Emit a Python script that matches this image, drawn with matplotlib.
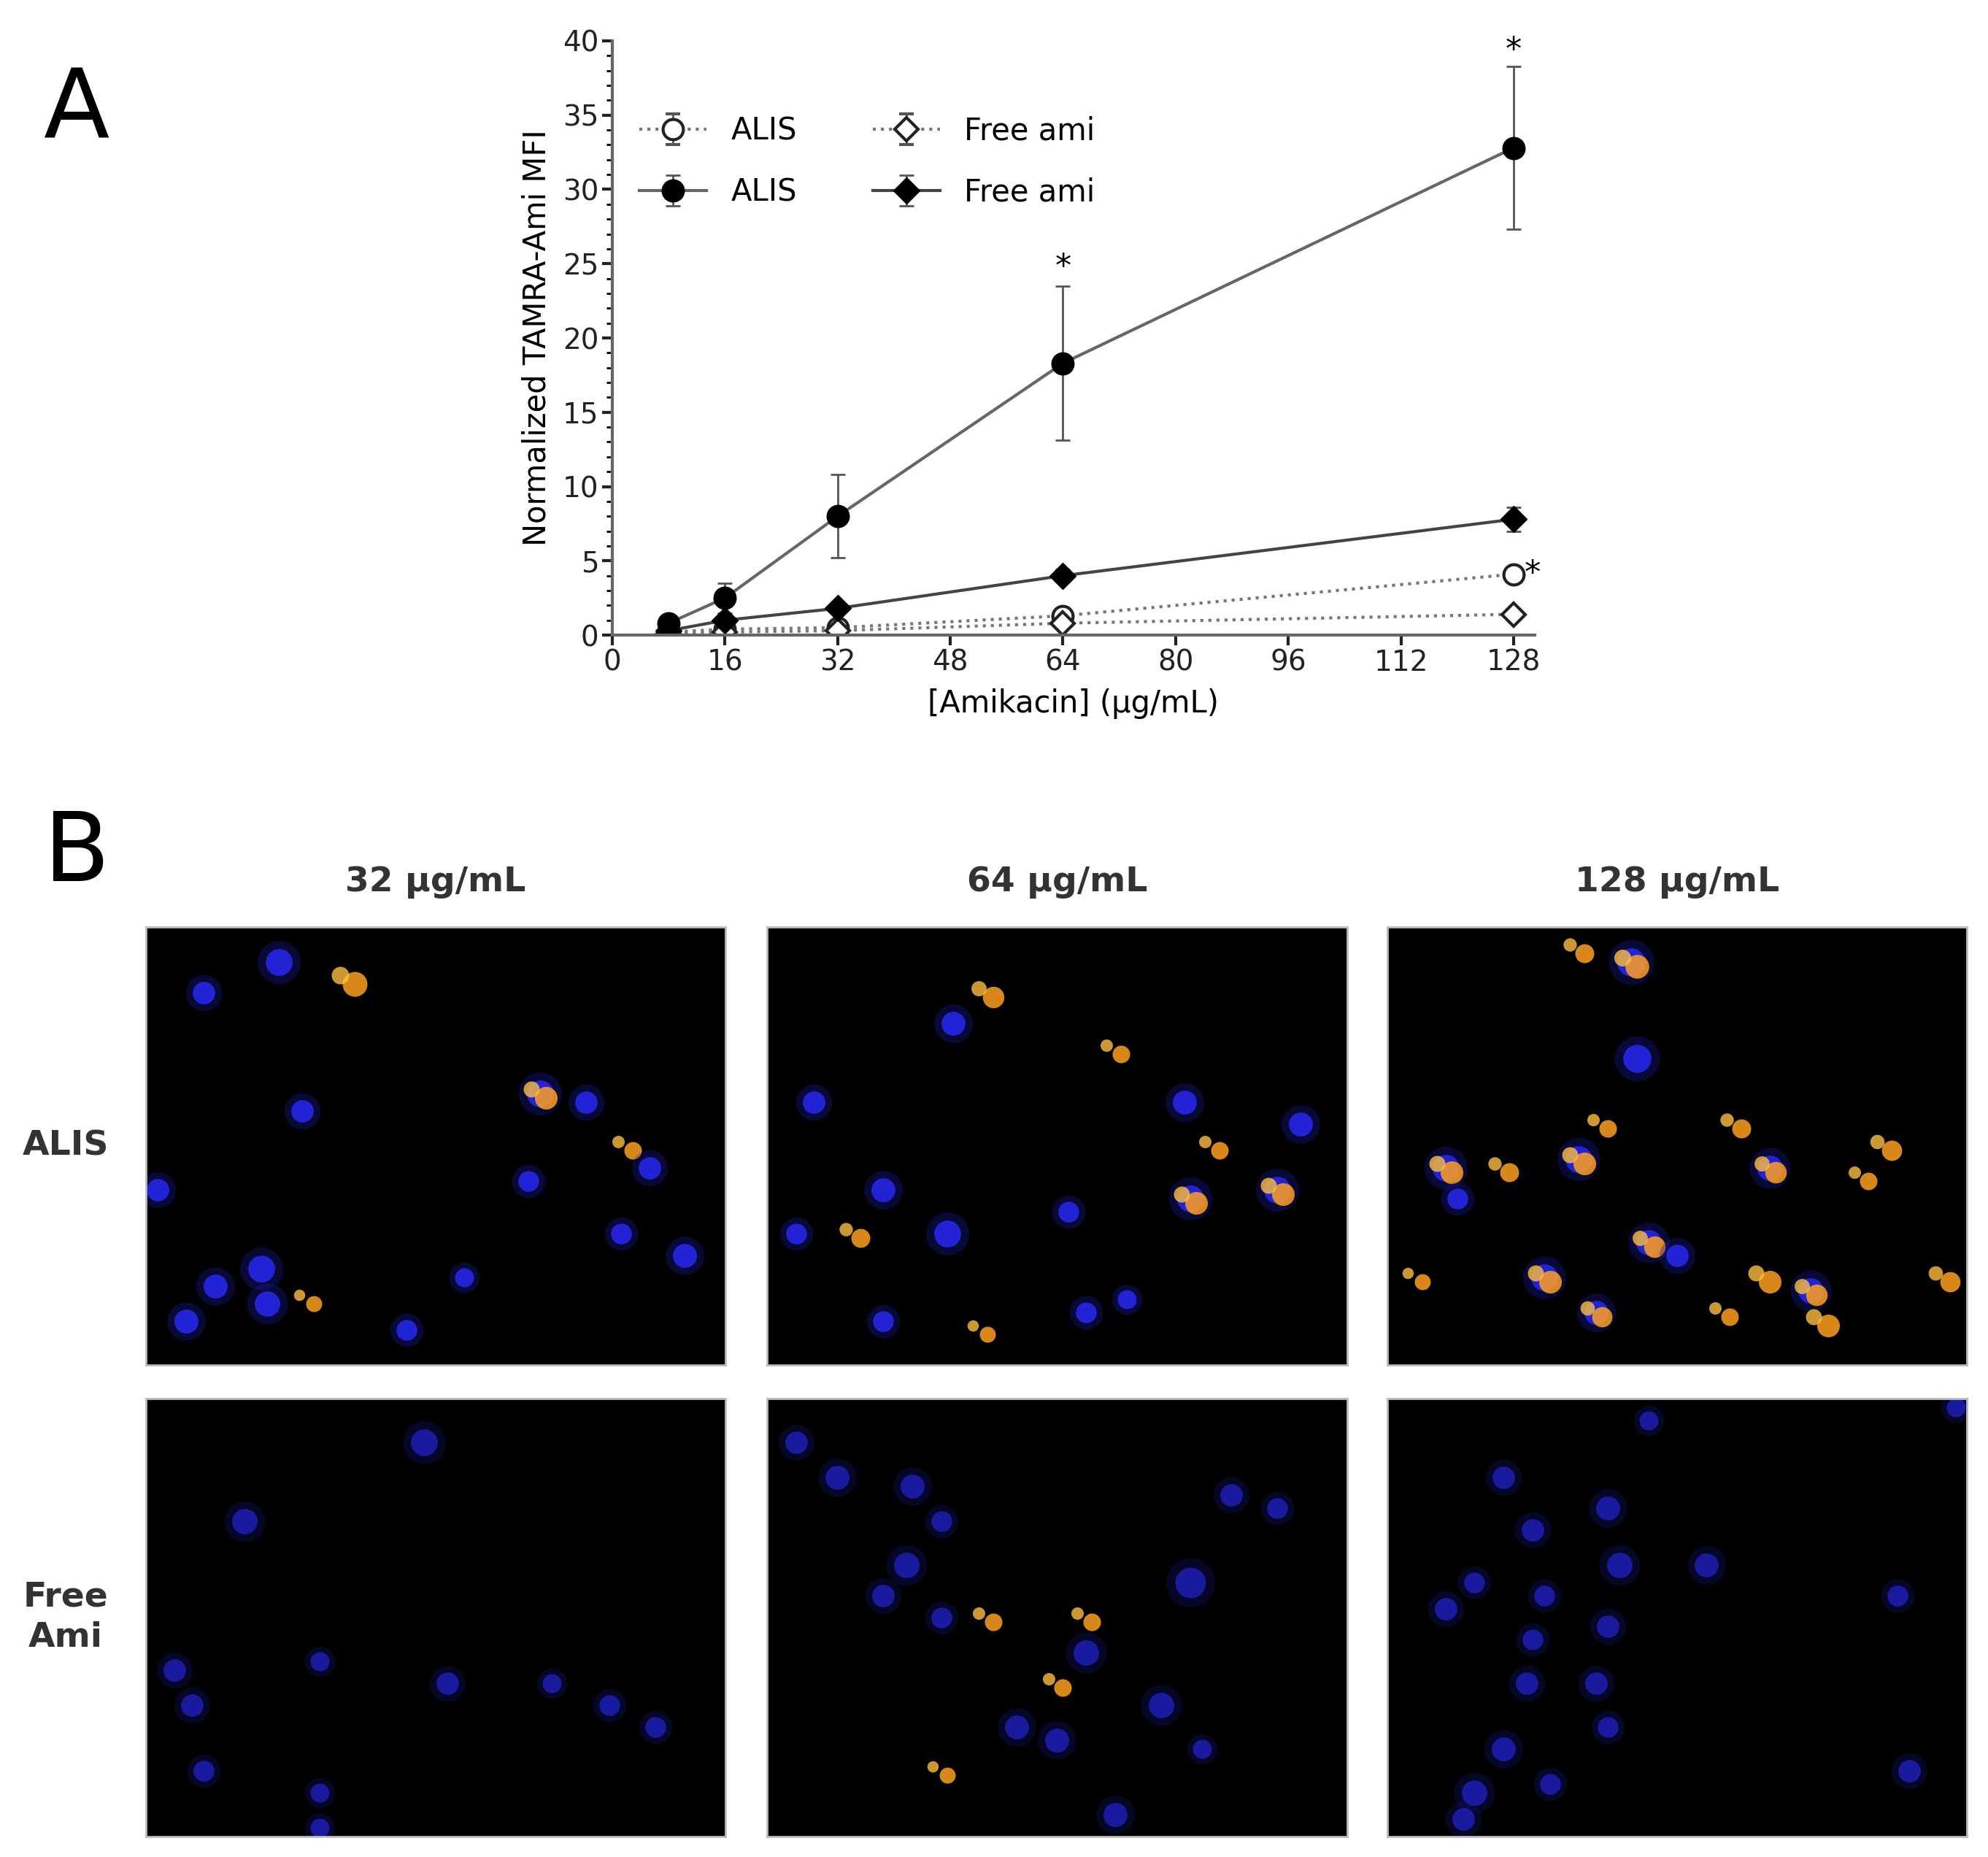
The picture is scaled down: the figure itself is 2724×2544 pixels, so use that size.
import numpy as np
import matplotlib.pyplot as plt

plt.rcParams['font.family'] = ['DejaVu Sans']

conc = [8, 16, 32, 64, 128]
alis_fill = [0.8, 2.5, 8.0, 18.3, 32.8]
alis_fill_err = [0.5, 1.0, 2.8, 5.2, 5.5]
free_fill = [0.3, 1.0, 1.8, 4.0, 7.8]
free_fill_err = [0.3, 0.3, 0.3, 0.4, 0.8]
alis_open = [0.2, 0.4, 0.5, 1.3, 4.1]
alis_open_err = [0.1, 0.1, 0.1, 0.2, 0.3]
free_open = [0.1, 0.2, 0.3, 0.8, 1.4]
free_open_err = [0.1, 0.1, 0.1, 0.2, 0.2]

col_titles = ["32 μg/mL", "64 μg/mL", "128 μg/mL"]
row_titles = ["ALIS", "Free\nAmi"]

# cells per panel: (x, y, size, kind) kind 0 = blue nucleus, 1 = orange, 2 = blue+orange
cells = {
    (0, 0): [(0.23, 0.92, 1.0, 0), (0.35, 0.88, 1.2, 1), (0.1, 0.85, 0.7, 0), (0.27, 0.58, 0.7, 0),
             (0.68, 0.62, 1.0, 2), (0.76, 0.6, 0.7, 0), (0.83, 0.5, 0.6, 1), (0.87, 0.45, 0.7, 0),
             (0.2, 0.22, 1.0, 0), (0.12, 0.18, 0.8, 0), (0.21, 0.14, 0.9, 0), (0.07, 0.1, 0.8, 0),
             (0.28, 0.15, 0.5, 1), (0.93, 0.25, 0.8, 0), (0.82, 0.3, 0.6, 0), (0.66, 0.42, 0.6, 0),
             (0.02, 0.4, 0.7, 0), (0.45, 0.08, 0.6, 0), (0.55, 0.2, 0.5, 0)],
    (1, 0): [(0.38, 0.85, 0.9, 1), (0.32, 0.78, 0.8, 0), (0.08, 0.6, 0.7, 0), (0.6, 0.72, 0.6, 1),
             (0.72, 0.6, 0.8, 0), (0.77, 0.5, 0.6, 1), (0.73, 0.38, 1.0, 2), (0.88, 0.4, 1.0, 2),
             (0.31, 0.3, 1.0, 0), (0.2, 0.4, 0.8, 0), (0.15, 0.3, 0.7, 1), (0.05, 0.3, 0.6, 0),
             (0.2, 0.1, 0.6, 0), (0.37, 0.08, 0.5, 1), (0.55, 0.12, 0.6, 0), (0.92, 0.55, 0.8, 0),
             (0.52, 0.35, 0.6, 0), (0.62, 0.15, 0.5, 0)],
    (2, 0): [(0.42, 0.92, 1.1, 2), (0.33, 0.95, 0.7, 1), (0.43, 0.7, 1.1, 0), (0.1, 0.45, 1.0, 2),
             (0.2, 0.45, 0.7, 1), (0.33, 0.47, 1.0, 2), (0.37, 0.55, 0.6, 1), (0.6, 0.55, 0.7, 1),
             (0.66, 0.45, 0.9, 2), (0.86, 0.5, 0.8, 1), (0.82, 0.43, 0.6, 1), (0.45, 0.28, 0.9, 2),
             (0.27, 0.2, 1.0, 2), (0.36, 0.12, 0.8, 2), (0.65, 0.2, 1.0, 1), (0.73, 0.17, 0.9, 2),
             (0.75, 0.1, 1.0, 1), (0.5, 0.25, 0.7, 0), (0.05, 0.2, 0.5, 1), (0.96, 0.2, 0.8, 1),
             (0.58, 0.12, 0.6, 1), (0.12, 0.38, 0.6, 0)],
    (0, 1): [(0.48, 0.9, 1.0, 0), (0.17, 0.72, 0.9, 0), (0.05, 0.38, 0.7, 0), (0.08, 0.3, 0.7, 0),
             (0.52, 0.35, 0.7, 0), (0.1, 0.15, 0.6, 0), (0.3, 0.1, 0.5, 0), (0.8, 0.3, 0.6, 0),
             (0.88, 0.25, 0.6, 0), (0.3, 0.4, 0.5, 0), (0.7, 0.35, 0.5, 0), (0.3, 0.02, 0.5, 0)],
    (1, 1): [(0.05, 0.9, 0.7, 0), (0.12, 0.82, 0.8, 0), (0.25, 0.8, 0.8, 0), (0.3, 0.72, 0.6, 0),
             (0.24, 0.62, 0.9, 0), (0.2, 0.55, 0.7, 0), (0.3, 0.5, 0.6, 0), (0.38, 0.5, 0.6, 1),
             (0.55, 0.5, 0.6, 1), (0.55, 0.42, 0.9, 0), (0.5, 0.35, 0.6, 1), (0.43, 0.25, 0.8, 0),
             (0.5, 0.22, 0.8, 0), (0.68, 0.3, 0.9, 0), (0.73, 0.58, 1.3, 0), (0.8, 0.78, 0.7, 0),
             (0.88, 0.75, 0.6, 0), (0.6, 0.05, 0.8, 0), (0.3, 0.15, 0.5, 1), (0.75, 0.2, 0.5, 0)],
    (2, 1): [(0.2, 0.82, 0.7, 0), (0.25, 0.7, 0.7, 0), (0.38, 0.75, 0.8, 0), (0.4, 0.62, 0.9, 0),
             (0.55, 0.62, 0.8, 0), (0.15, 0.58, 0.6, 0), (0.1, 0.52, 0.7, 0), (0.27, 0.55, 0.6, 0),
             (0.25, 0.45, 0.6, 0), (0.38, 0.48, 0.7, 0), (0.24, 0.35, 0.7, 0), (0.36, 0.35, 0.7, 0),
             (0.38, 0.25, 0.6, 0), (0.2, 0.2, 0.8, 0), (0.15, 0.1, 0.9, 0), (0.13, 0.04, 0.7, 0),
             (0.28, 0.12, 0.6, 0), (0.88, 0.55, 0.6, 0), (0.9, 0.15, 0.7, 0), (0.45, 0.95, 0.5, 0),
             (0.98, 0.98, 0.5, 0)],
}

fig = plt.figure(figsize=(27.24, 25.44), dpi=100)

ax = fig.add_axes([0.308, 0.658, 0.464, 0.32])
ek = dict(ecolor='#555555', elinewidth=2, capsize=7, capthick=2)
ax.errorbar(conc, alis_open, yerr=alis_open_err, color='#777777', ls=':', lw=3, marker='o',
            ms=20, mfc='white', mec='#222222', mew=3, label='ALIS', **ek)
ax.errorbar(conc, alis_fill, yerr=alis_fill_err, color='#666666', ls='-', lw=3, marker='o',
            ms=22, mfc='black', mec='black', label='ALIS', **ek)
ax.errorbar(conc, free_open, yerr=free_open_err, color='#777777', ls=':', lw=3, marker='D',
            ms=16, mfc='white', mec='#222222', mew=3, label='Free ami', **ek)
ax.errorbar(conc, free_fill, yerr=free_fill_err, color='#444444', ls='-', lw=3, marker='D',
            ms=18, mfc='black', mec='black', label='Free ami', **ek)
for x, y, txt in [(64, 23.7, '*'), (128, 38.3, '*')]:
    ax.text(x, y, txt, ha='center', va='bottom', fontsize=32)
ax.text(129.5, alis_open[-1], '*', ha='left', va='center', fontsize=32)

ax.set_xlim(0, 131)
ax.set_ylim(0, 40)
ax.set_xticks(range(0, 129, 16))
ax.set_yticks(range(0, 41, 5))
ax.set_yticks(range(0, 41, 1), minor=True)
ax.tick_params(labelsize=28, width=3, length=10, colors='#222222')
ax.tick_params(which='minor', length=6, width=2)
for s in ['top', 'right']:
    ax.spines[s].set_visible(False)
for s in ['left', 'bottom']:
    ax.spines[s].set_linewidth(3)
    ax.spines[s].set_color('#666666')
ax.set_xlabel('[Amikacin] (μg/mL)', fontsize=30, labelpad=12)
ax.set_ylabel('Normalized TAMRA-Ami MFI', fontsize=30, labelpad=10)
ax.legend(ncol=2, loc='upper left', bbox_to_anchor=(0.0, 0.92), frameon=False, fontsize=30,
          handlelength=2.2, columnspacing=2.5, labelspacing=1.0)

fig.text(0.022, 0.965, 'A', fontsize=95, va='top')
fig.text(0.022, 0.565, 'B', fontsize=95, va='top')

lefts = [0.0733, 0.386, 0.698]
bottoms = [0.265, 0.011]
w, h = 0.2915, 0.2357
for c in range(3):
    fig.text(lefts[c] + w / 2, 0.525, col_titles[c], ha='center', va='center',
             fontsize=34, fontweight='bold', color='#333333')
for r in range(2):
    fig.text(0.033, bottoms[r] + h / 2, row_titles[r], ha='center', va='center',
             fontsize=34, fontweight='bold', color='#333333', linespacing=1.3)
for c in range(3):
    for r in range(2):
        a = fig.add_axes([lefts[c], bottoms[r], w, h])
        a.set_facecolor('black')
        a.set_xlim(0, 1)
        a.set_ylim(0, 1)
        a.set_xticks([])
        a.set_yticks([])
        for s in a.spines.values():
            s.set_color('#bbbbbb')
            s.set_linewidth(2)
        bright = 1.0 if r == 0 else 0.7
        for x, y, sz, kind in cells[(c, r)]:
            if kind in (0, 2):
                a.scatter(x, y, s=1800 * sz, color='#1a1aa0', alpha=0.35 * bright, lw=0)
                a.scatter(x, y, s=700 * sz, color='#2a2aff', alpha=0.8 * bright, lw=0)
            if kind in (1, 2):
                a.scatter(x + 0.01, y - 0.01, s=500 * sz, color='#ffa020', alpha=0.85, lw=0)
                a.scatter(x - 0.015, y + 0.01, s=250 * sz, color='#ffc040', alpha=0.8, lw=0)

fig.savefig('out.png')
